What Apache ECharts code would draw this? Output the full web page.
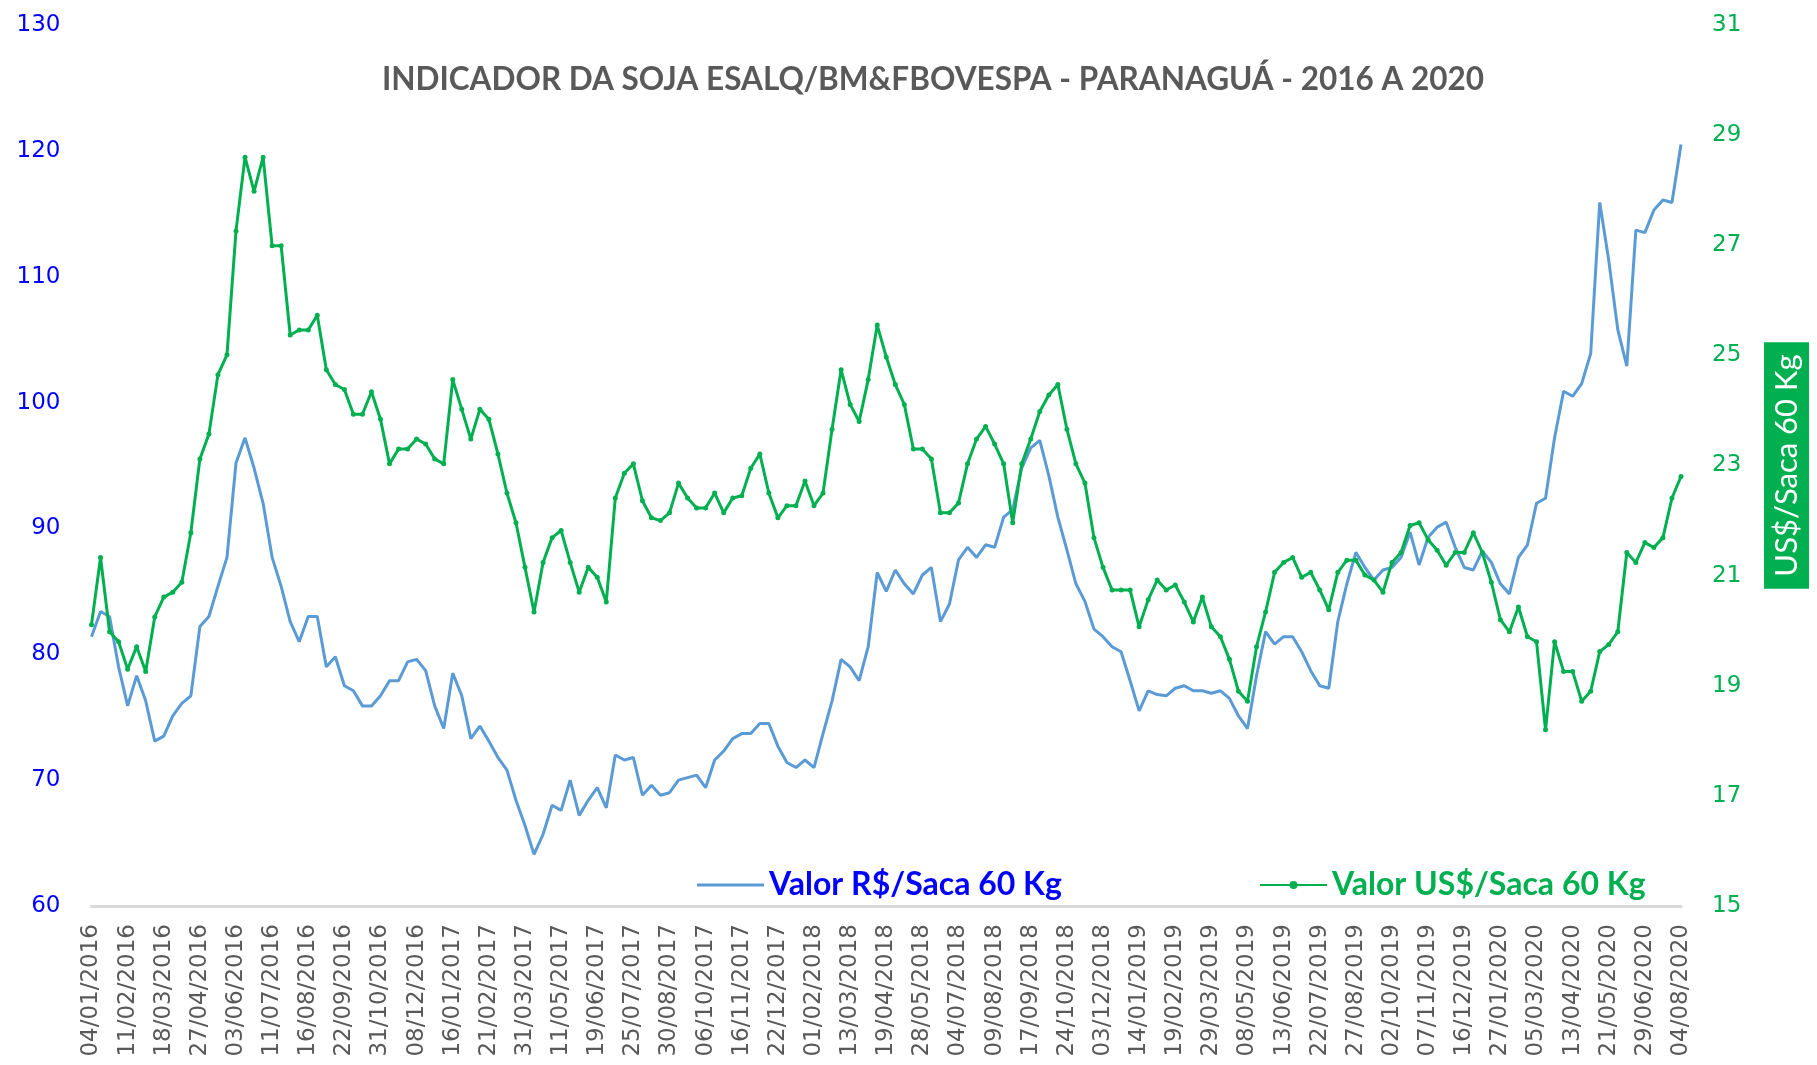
<!DOCTYPE html>
<html><head><meta charset="utf-8">
<script src="https://cdn.jsdelivr.net/npm/echarts@6.0.0/dist/echarts.min.js"></script>
<style>html,body{margin:0;padding:0;background:#fff;overflow:hidden}#c{width:1817px;height:1065px}</style>
</head><body><div id="c"></div>
<script>
const tickLabels = ['04/01/2016','11/02/2016','18/03/2016','27/04/2016','03/06/2016','11/07/2016','16/08/2016','22/09/2016','31/10/2016','08/12/2016',
'16/01/2017','21/02/2017','31/03/2017','11/05/2017','19/06/2017','25/07/2017','30/08/2017','06/10/2017','16/11/2017','22/12/2017',
'01/02/2018','13/03/2018','19/04/2018','28/05/2018','04/07/2018','09/08/2018','17/09/2018','24/10/2018','03/12/2018',
'14/01/2019','19/02/2019','29/03/2019','08/05/2019','13/06/2019','22/07/2019','27/08/2019','02/10/2019','07/11/2019','16/12/2019',
'27/01/2020','05/03/2020','13/04/2020','21/05/2020','29/06/2020','04/08/2020'];

const valorReais = [
81.4,83.4,83.0,79.0,75.9,78.3,76.3,73.1,73.5,75.1,76.1,76.7,82.2,83.0,85.4,87.7,95.2,97.2,94.8,92.0,87.7,85.4,82.6,81.0,83.0,83.0,79.0,79.8,77.5,77.1,
75.9,75.9,76.7,77.9,77.9,79.4,79.6,78.7,75.9,74.1,78.5,76.7,73.3,74.3,73.1,71.8,70.8,68.4,66.4,64.1,65.7,68.0,67.6,70.0,67.2,68.4,69.4,67.8,72.0,71.6,
71.8,68.8,69.6,68.8,69.0,70.0,70.2,70.4,69.4,71.6,72.3,73.3,73.7,73.7,74.5,74.5,72.7,71.4,71.0,71.6,71.0,73.7,76.3,79.6,79.0,77.9,80.6,86.5,85.0,86.7,
85.6,84.8,86.3,86.9,82.6,84.0,87.5,88.5,87.7,88.7,88.5,90.9,91.5,94.8,96.4,97.0,94.2,90.9,88.3,85.6,84.2,82.0,81.4,80.6,80.2,77.9,75.5,77.1,76.8,
76.7,77.3,77.5,77.1,77.1,76.9,77.1,76.5,75.1,74.1,78.3,81.8,80.8,81.4,81.4,80.2,78.7,77.5,77.3,82.6,85.6,88.1,86.9,85.9,86.7,86.9,87.7,89.7,87.1,89.3,
90.1,90.5,88.5,86.9,86.7,88.2,87.3,85.6,84.8,87.7,88.7,92.0,92.4,97.2,100.9,100.5,101.5,103.9,115.9,111.3,105.8,102.9,113.7,113.5,115.3,116.1,115.9,120.5];

const valorDolar = [
20.11,21.33,19.98,19.80,19.30,19.71,19.26,20.25,20.61,20.70,20.88,21.78,23.12,23.57,24.65,25.01,27.26,28.6,27.98,28.6,26.99,26.99,25.37,25.46,25.46,25.73,24.74,24.47,24.38,23.93,
23.93,24.34,23.84,23.03,23.30,23.30,23.48,23.39,23.12,23.03,24.56,24.02,23.48,24.02,23.84,23.21,22.50,21.96,21.15,20.34,21.24,21.69,21.82,21.24,20.70,21.15,20.97,20.52,22.41,22.86,
23.03,22.36,22.05,22.00,22.14,22.68,22.41,22.23,22.23,22.50,22.14,22.41,22.45,22.95,23.21,22.50,22.05,22.27,22.27,22.72,22.27,22.50,23.66,24.74,24.11,23.80,24.56,25.55,24.97,24.47,
24.11,23.30,23.30,23.12,22.14,22.14,22.32,23.03,23.48,23.71,23.39,23.03,21.96,23.03,23.48,23.98,24.28,24.47,23.66,23.03,22.68,21.69,21.15,20.74,20.74,20.74,20.07,20.56,20.92,
20.74,20.83,20.52,20.16,20.61,20.07,19.89,19.48,18.90,18.72,19.71,20.34,21.06,21.24,21.33,20.97,21.06,20.74,20.38,21.06,21.28,21.28,21.01,20.92,20.70,21.24,21.42,21.91,21.96,21.65,
21.46,21.19,21.42,21.42,21.78,21.42,20.88,20.20,19.98,20.43,19.89,19.80,18.20,19.80,19.26,19.26,18.72,18.90,19.62,19.75,19.98,21.42,21.24,21.60,21.51,21.69,22.41,22.80];

const leftTicks = {min: 60, max: 130, interval: 10};
const rightTicks = {min: 15, max: 31, interval: 2};

// 4 sample points per labelled interval; labelled dates sit on every 4th category
const categories = [];
tickLabels.forEach((d, i) => {
  categories.push(d);
  if (i < tickLabels.length - 1) for (let k = 1; k < 4; k++) categories.push(d + ' +' + k);
});

const chart = echarts.init(document.getElementById('c'), null, {renderer: 'canvas'});
const tickFont = 'DejaVu Sans';
chart.setOption({
  animation: false,
  backgroundColor: '#ffffff',
  title: {
    text: 'INDICADOR DA SOJA ESALQ/BM&FBOVESPA - PARANAGUÁ - 2016 A 2020',
    left: 928, top: 59, textAlign: 'center',
    textStyle: {color: '#595959', fontWeight: 'bold', fontSize: 31.5, fontFamily: 'Lato'}
  },
  legend: [
    {data: [{name: 'Valor R$/Saca 60 Kg', icon: 'rect'}], left: 692, top: 864, itemWidth: 67, itemHeight: 3,
     textStyle: {color: '#0000FF', fontWeight: 'bold', fontSize: 32, fontFamily: 'Lato'}},
    {data: ['Valor US$/Saca 60 Kg'], left: 1254, top: 864, itemWidth: 67, itemHeight: 10,
     textStyle: {color: '#00B050', fontWeight: 'bold', fontSize: 32, fontFamily: 'Lato'}}
  ],
  grid: {left: 91.5, right: 112, top: 25, bottom: 159, containLabel: false},
  xAxis: {
    type: 'category', data: categories, boundaryGap: false,
    axisTick: {show: false},
    axisLine: {lineStyle: {color: '#D9D9D9', width: 3}},
    axisLabel: {interval: 3, rotate: 90, margin: 18, color: '#595959', fontSize: 23, fontFamily: tickFont},
    splitLine: {show: false}
  },
  yAxis: [
    {type: 'value', min: leftTicks.min, max: leftTicks.max, interval: leftTicks.interval,
     axisLine: {show: false}, axisTick: {show: false}, splitLine: {show: false},
     axisLabel: {color: '#0000FF', fontSize: 23, fontFamily: tickFont, margin: 31}},
    {type: 'value', position: 'right', min: rightTicks.min, max: rightTicks.max, interval: rightTicks.interval,
     axisLine: {show: false}, axisTick: {show: false}, splitLine: {show: false},
     axisLabel: {color: '#00B050', fontSize: 23, fontFamily: tickFont, margin: 31},
     name: 'US$/Saca 60 Kg', nameLocation: 'middle', nameRotate: 90, nameGap: 83,
     nameTextStyle: {color: '#ffffff', backgroundColor: '#00B050', fontSize: 31, fontFamily: 'Lato',
       padding: [7, 12, 7, 12]}}
  ],
  series: [
    {name: 'Valor R$/Saca 60 Kg', type: 'line', yAxisIndex: 0, data: valorReais,
     symbol: 'none', lineStyle: {color: '#5B9BD5', width: 3}, itemStyle: {color: '#5B9BD5'}},
    {name: 'Valor US$/Saca 60 Kg', type: 'line', yAxisIndex: 1, data: valorDolar,
     symbol: 'circle', symbolSize: 5, showSymbol: true,
     lineStyle: {color: '#00B050', width: 3}, itemStyle: {color: '#00B050'}}
  ]
});
</script></body></html>
